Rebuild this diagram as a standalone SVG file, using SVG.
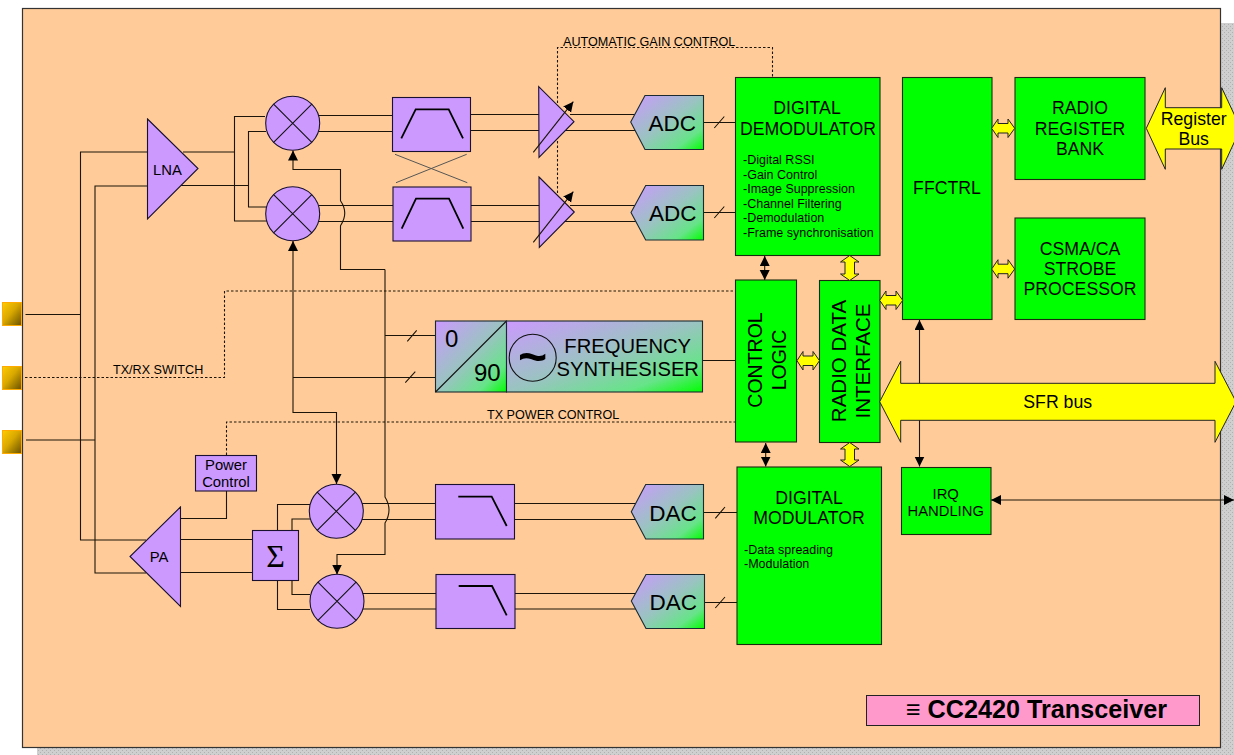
<svg xmlns="http://www.w3.org/2000/svg" width="1234" height="755" viewBox="0 0 1234 755">
<style>
text{font-family:"Liberation Sans",Arial,sans-serif;fill:#000}
.w{fill:none;stroke:#1c1408;stroke-width:1.1}
.d{fill:none;stroke:#1c1408;stroke-width:1.1;stroke-dasharray:2.5 2}
.p{fill:#cc99ff;stroke:#1a1030;stroke-width:1.1}
.g{fill:#00ff00;stroke:#1a2a10;stroke-width:1.1}
.m{fill:url(#mix);stroke:#1a2a30;stroke-width:1.1}
.y{fill:#ffff00;stroke:#222;stroke-width:1}
.n{fill:none;stroke:#111;stroke-width:1.1}
.f{fill:none;stroke:#000;stroke-width:1.8}
.c{text-anchor:middle}
.s18{font-size:17.7px}.s15{font-size:14.8px}.s12{font-size:12.6px}.s12b{font-size:12.5px}.s22{font-size:22.5px}
</style>
<defs>
<linearGradient id="mix" x1="0" y1="0" x2="1" y2="1"><stop offset="0" stop-color="#cc99ff"/><stop offset=".5" stop-color="#99c4c0"/><stop offset=".8" stop-color="#66e488"/><stop offset="1" stop-color="#00ff00"/></linearGradient>
<linearGradient id="pad" x1="0" y1="0" x2="1" y2="1"><stop offset="0" stop-color="#ffcc00"/><stop offset=".45" stop-color="#d9a800"/><stop offset="1" stop-color="#665000"/></linearGradient>
<pattern id="sh" width="4" height="4" patternUnits="userSpaceOnUse"><rect width="4" height="4" fill="#cfcfcf"/><rect width="1" height="1" fill="#b0b0b0"/><rect x="2" y="2" width="1" height="1" fill="#b0b0b0"/></pattern>
<marker id="a" markerUnits="userSpaceOnUse" markerWidth="11" markerHeight="11" refX="10" refY="5" orient="auto-start-reverse"><path d="M0 0L10 5L0 10Z" fill="#000"/></marker>
</defs>

<rect x="37" y="23" width="1197" height="732" fill="url(#sh)"/>
<rect id="panel" x="22.500" y="8.500" width="1198" height="739" fill="#ffcc99" stroke="#333" stroke-width="1.200"/>

<g id="connectors">
<path class="w" d="M25.500 314.500H80.500M147 152H80.500V540H146M147 186H95V573H146M26 440H95"/>
<path class="w" d="M183 152H234.500M265 116.500H234.500V221H267M181 185.500H248.500M266 131.500H248.500V207H267"/>
<path class="w" d="M319 115.500H392M319 131.500H392M319 205.500H393M319 221.500H393"/>
<path class="w" d="M470 114.500H540M470 130.500H540M471 205.500H540M471 221.500H540"/>
<path class="w" d="M570 114.500H636M560 130.500H636M570 205.500H636M560 221.500H636"/>
<path class="w" d="M703 122.500H735M714.300 128L724.300 116.500M703 212.500H735M714.300 218L724.300 206.500"/>
<path class="w" d="M703 512.500H737M715.300 518.300L725 507M704 602.500H737M715.300 608L725 597"/>
<path class="w" d="M702 360.500H735M385 335.500H435M293 377.500H435M407.300 341.300L416.700 330.300M405.300 382.700L415.300 371.700"/>
<path class="w" marker-start="url(#a)" marker-end="url(#a)" d="M293 241V412.500H336.500V484"/>
<path class="w" marker-end="url(#a)" d="M385 269.500H340.500V225.700Q349 213 340.500 200.700V169.500H293V150.500"/>
<path class="w" marker-end="url(#a)" d="M385 269.500V497Q393 510 385 523V554.500H337V574.500"/>
<path class="w" d="M362 503.500H435M362 519.500H435M362 593.500H436M362 609H436M514 503.500H636M514 519.500H636M514 593.500H636M514 609H636"/>
<path class="w" d="M310 504.500H277.500V530M310 519H292V530M277.500 580V609.500H310M292 580V594.500H310"/>
<path class="w" d="M180 539.500H252M180 572.500H252M180 518.500H226.500V491"/>
<path class="w" marker-start="url(#a)" marker-end="url(#a)" d="M919.500 320V466.500"/>
<path class="w" marker-start="url(#a)" marker-end="url(#a)" d="M991 500H1234"/>
<path class="w" marker-start="url(#a)" marker-end="url(#a)" d="M764.700 256V280"/>
<path class="w" marker-start="url(#a)" marker-end="url(#a)" d="M765.700 443V466.500"/>
<path class="d" d="M557.500 193V47.500H772.500V77"/>
<path class="d" d="M25 377.500H224.500V291H735"/>
<path class="d" d="M226.500 455V422H735"/>
<path d="M395 154.300L467.300 182.700M466.700 154.300L396 182.700" fill="none" stroke="#555" stroke-width="1"/>
</g>

<g id="pad1"><rect x="2.500" y="302.500" width="19" height="23" fill="url(#pad)" stroke="#ffaa00"/></g>
<g id="pad2"><rect x="2.500" y="366.500" width="19" height="23" fill="url(#pad)" stroke="#ffaa00"/></g>
<g id="pad3"><rect x="2.500" y="430.500" width="19" height="23" fill="url(#pad)" stroke="#ffaa00"/></g>

<g id="lna"><path class="p" d="M147.500 119L198 168.500L147.500 219Z"/><text class="c s15" x="167.500" y="175">LNA</text></g>
<g id="pa"><path class="p" d="M180.500 507L130 556.500L180.500 606.500Z"/><text class="c s15" x="159" y="562">PA</text></g>

<g id="mixer1"><circle class="p" cx="292.700" cy="123.200" r="27"/><path class="n" d="M273.600 104.100L311.800 142.300M311.800 104.100L273.600 142.300"/></g>
<g id="mixer2"><circle class="p" cx="292.700" cy="213.700" r="27"/><path class="n" d="M273.600 194.600L311.800 232.800M311.800 194.600L273.600 232.800"/></g>
<g id="mixer3"><circle class="p" cx="336.300" cy="511.300" r="27"/><path class="n" d="M317.200 492.200L355.400 530.400M355.400 492.200L317.200 530.400"/></g>
<g id="mixer4"><circle class="p" cx="337" cy="601.300" r="27"/><path class="n" d="M317.900 582.200L356.100 620.400M356.100 582.200L317.900 620.400"/></g>

<g id="filter1"><rect class="p" x="392.500" y="97.500" width="78" height="54"/><path class="f" d="M401.300 138.300L415.700 109.300H448.700L463 138.300"/></g>
<g id="filter2"><rect class="p" x="393" y="187" width="78" height="54"/><path class="f" d="M401.700 228.700L416 198.700H449L463.300 228.700"/></g>
<g id="filter3"><rect class="p" x="435.500" y="484.500" width="79" height="54.500"/><path class="f" d="M458.300 496.700H491.700L506.700 526"/></g>
<g id="filter4"><rect class="p" x="436" y="574.500" width="79" height="54"/><path class="f" d="M458.700 586H492L506.700 615.300"/></g>

<g id="amp1"><path class="p" d="M538.700 86.700L574 121.700L539 157.300Z"/><path class="w" marker-end="url(#a)" d="M533.300 152.300L573.300 101.700"/></g>
<g id="amp2"><path class="p" d="M539 177L574.300 212L539.300 247.300Z"/><path class="w" marker-end="url(#a)" d="M533.300 242.300L573.300 191.700"/></g>

<g id="adc1"><path class="m" d="M630.700 122L645 95.500H703.500V149.500H645Z"/><text class="c s22" x="672.300" y="131">ADC</text></g>
<g id="adc2"><path class="m" d="M631 212.500L645.700 185.500H703.500V240H645.700Z"/><text class="c s22" x="672.700" y="221">ADC</text></g>
<g id="dac1"><path class="m" d="M631.300 511.700L645.700 484.500H703.500V539H645.700Z"/><text class="c s22" x="673" y="521">DAC</text></g>
<g id="dac2"><path class="m" d="M631.300 601L646 574.500H704.500V628.500H646Z"/><text class="c s22" x="673.300" y="610">DAC</text></g>

<g id="sum"><rect class="p" x="252.500" y="530.500" width="46" height="50"/><text class="c" x="275.500" y="567" style="font-family:'Liberation Serif',serif;font-size:32px">Σ</text></g>
<g id="power-control"><rect class="p" x="195.500" y="455.500" width="61" height="35.500"/><text class="c s15" x="226" y="470">Power</text><text class="c s15" x="226" y="487">Control</text></g>

<g id="phase"><rect class="m" x="435.500" y="321" width="71" height="71"/><path class="n" d="M435.500 392L506.500 321"/><text x="445" y="347" style="font-size:24px">0</text><text x="474" y="381" style="font-size:24px">90</text></g>
<g id="synth"><rect class="m" x="506.500" y="321" width="196" height="71"/><circle class="n" cx="532.700" cy="357.700" r="23.500"/><text class="c" x="532.700" y="374" style="font-weight:bold;font-size:50px">~</text><text class="c" x="627.700" y="352.700" style="font-size:20.200px">FREQUENCY</text><text class="c" x="627.700" y="376" style="font-size:20.200px">SYNTHESISER</text></g>

<g id="demod"><rect class="g" x="735.500" y="77.500" width="144.500" height="178"/>
<text class="c s18" x="807" y="114">DIGITAL</text><text class="c s18" x="808" y="135">DEMODULATOR</text>
<text class="s12b" x="743" y="164">-Digital RSSI</text><text class="s12b" x="743" y="179">-Gain Control</text><text class="s12b" x="743" y="193">-Image Suppression</text><text class="s12b" x="743" y="208">-Channel Filtering</text><text class="s12b" x="743" y="222">-Demodulation</text><text class="s12b" x="743" y="237">-Frame synchronisation</text></g>
<g id="modulator"><rect class="g" x="737" y="467" width="144.500" height="177.500"/>
<text class="c s18" x="809" y="504">DIGITAL</text><text class="c s18" x="809" y="524">MODULATOR</text>
<text class="s12b" x="744" y="554">-Data spreading</text><text class="s12b" x="744" y="568">-Modulation</text></g>
<g id="control"><rect class="g" x="735.500" y="280" width="61" height="162"/>
<text class="c" transform="translate(761.700 360) rotate(-90)" style="font-size:19.500px">CONTROL</text><text class="c" transform="translate(786 360) rotate(-90)" style="font-size:19.500px">LOGIC</text></g>
<g id="rdi"><rect class="g" x="819.500" y="280.500" width="60.500" height="162"/>
<text class="c" transform="translate(845.700 361) rotate(-90)" style="font-size:20.500px">RADIO DATA</text><text class="c" transform="translate(870 361) rotate(-90)" style="font-size:20.500px">INTERFACE</text></g>
<g id="ffctrl"><rect class="g" x="902.500" y="77.500" width="89.500" height="242"/><text class="c s18" x="947" y="194.300">FFCTRL</text></g>
<g id="register-bank"><rect class="g" x="1015" y="77.500" width="130" height="102"/><text class="c s18" x="1080" y="114">RADIO</text><text class="c s18" x="1080" y="135">REGISTER</text><text class="c s18" x="1080" y="155">BANK</text></g>
<g id="csma"><rect class="g" x="1015" y="218" width="130" height="101.500"/><text class="c s18" x="1080" y="255">CSMA/CA</text><text class="c s18" x="1080" y="275">STROBE</text><text class="c s18" x="1080" y="295">PROCESSOR</text></g>
<g id="irq"><rect class="g" x="901.500" y="467.500" width="89.500" height="67"/><text class="c s15" x="945.700" y="499.300">IRQ</text><text class="c s15" x="945.700" y="516">HANDLING</text></g>

<g id="register-bus"><path class="y" d="M1146.300 128.300L1165.300 87.700V107.700H1221.700V87.700L1240.700 128.300L1221.700 169.300V149H1165.300V169.300Z"/><text class="c s18" x="1193.700" y="125">Register</text><text class="c s18" x="1193.700" y="145">Bus</text></g>
<g id="sfr-bus"><path class="y" d="M879.700 401.700L900.700 361.300V383.300H1215V361.300L1236 401.700L1215 442.300V420.300H900.700V442.300Z"/><text class="c s18" x="1057.700" y="407.700">SFR bus</text></g>

<g id="bus-arrows">
<path class="y" d="M991.700 128.300L998 119V123.500H1008V119L1014.700 128.300L1008 137.500V133H998V137.500Z"/>
<path class="y" d="M991.700 269L998 259.700V264.200H1008V259.700L1014.700 269L1008 278.200V273.700H998V278.200Z"/>
<path class="y" d="M879.700 300.300L886 291V295.500H896V291L902.700 300.300L896 309.500V305H886V309.500Z"/>
<path class="y" d="M797 360.700L803 351.500V356H813V351.500L819.500 360.700L813 370V365.500H803V370Z"/>
<path class="y" d="M849.700 255.500L859 262H854.500V274H859L849.700 280.500L840.500 274H845V262H840.500Z"/>
<path class="y" d="M849.700 442.500L859 449H854.500V460H859L849.700 466.500L840.500 460H845V449H840.500Z"/>
</g>

<g id="title"><rect x="866.500" y="695.500" width="333" height="30" fill="#ff99cc" stroke="#222"/><text class="c" x="1036.500" y="718" style="font-weight:bold;font-size:25.200px">≡ CC2420 Transceiver</text></g>

<g id="labels">
<text class="s12" x="563" y="46">AUTOMATIC GAIN CONTROL</text>
<text class="s12" x="113" y="374">TX/RX SWITCH</text>
<text class="s12" x="487" y="419">TX POWER CONTROL</text>
</g>
</svg>
